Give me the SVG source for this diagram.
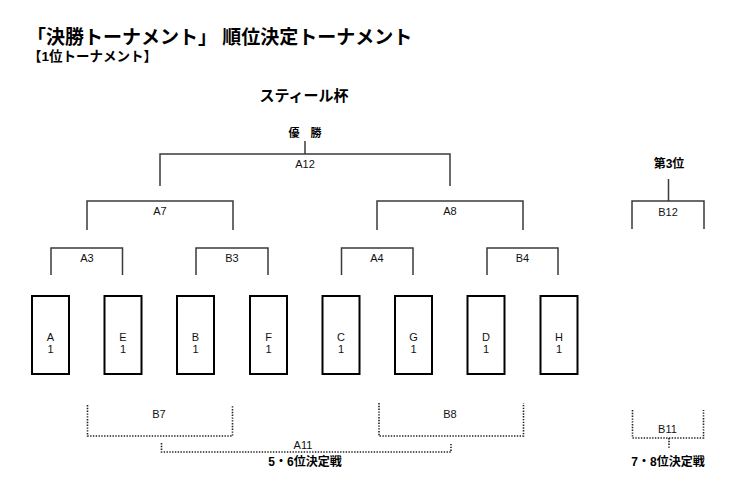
<svg xmlns="http://www.w3.org/2000/svg" width="740" height="496" viewBox="0 0 740 496">
<style>
.bg{fill:#ffffff}
.title{font-family:"Liberation Sans","Noto Sans CJK JP",sans-serif;font-weight:bold;fill:#000}
.lbl{font-family:"Liberation Sans","Noto Sans CJK JP",sans-serif;font-size:11px;fill:#111;text-anchor:middle}
.bl{font-family:"Liberation Sans","Noto Sans CJK JP",sans-serif;font-weight:bold;fill:#000;text-anchor:middle}
.box{fill:#fff;stroke:#000;stroke-width:2}
.br{fill:none;stroke:#3a3a3a;stroke-width:1.5}
.dot{fill:none;stroke:#222;stroke-width:1.6;stroke-dasharray:1.4 1.4}
</style>
<rect class="bg" x="0" y="0" width="740" height="496"/>

<g id="header">
<text class="title" x="27" y="43.5" font-size="19">「決勝トーナメント」 順位決定トーナメント</text>
<text class="title" x="28" y="61" font-size="13.5">【1位トーナメント】</text>
<text class="bl" x="304" y="100.5" font-size="15">スティール杯</text>
</g>

<g id="connectors">
<path class="br" d="M305,141 V154"/>
<path class="br" d="M160,186 V154 H450 V186"/>
<path class="br" d="M87,230 V201 H233 V230"/>
<path class="br" d="M377,230 V201 H523 V230"/>
<path class="br" d="M51,275 V248 H122.5 V275"/>
<path class="br" d="M196,275 V248 H268 V275"/>
<path class="br" d="M341.5,275 V248 H413 V275"/>
<path class="br" d="M487,275 V248 H558 V275"/>
<path class="br" d="M668.5,179 V201"/>
<path class="br" d="M632,229 V201 H704 V229"/>
<path class="dot" d="M87.5,405 V436 H232.5 V405"/>
<path class="dot" d="M379,403 V436 H523.5 V403"/>
<path class="dot" d="M161.5,443 V452 H451 V443"/>
<path class="dot" d="M632.5,410 V438 H703.5 V410"/>
<path class="dot" d="M669,438 V448"/>
</g>

<g id="champion"><text class="bl" x="305" y="137" font-size="11" xml:space="preserve" word-spacing="8">優 勝</text></g>
<g id="third"><text class="bl" x="669" y="167.5" font-size="12">第3位</text></g>
<g id="match-A12"><text class="lbl" x="305" y="168">A12</text></g>
<g id="match-A7"><text class="lbl" x="160" y="214.5">A7</text></g>
<g id="match-A8"><text class="lbl" x="450" y="214.5">A8</text></g>
<g id="match-B12"><text class="lbl" x="668" y="215.5">B12</text></g>
<g id="match-A3"><text class="lbl" x="87" y="261.5">A3</text></g>
<g id="match-B3"><text class="lbl" x="232" y="261.5">B3</text></g>
<g id="match-A4"><text class="lbl" x="377" y="261.5">A4</text></g>
<g id="match-B4"><text class="lbl" x="522.5" y="261.5">B4</text></g>

<g id="team-A"><rect class="box" x="32" y="296" width="37" height="78"/><text class="lbl" x="50.5" y="340.7">A</text><text class="lbl" x="50.5" y="353.3">1</text></g>
<g id="team-E"><rect class="box" x="104.5" y="296" width="37" height="78"/><text class="lbl" x="123" y="340.7">E</text><text class="lbl" x="123" y="353.3">1</text></g>
<g id="team-B"><rect class="box" x="177" y="296" width="37" height="78"/><text class="lbl" x="195.5" y="340.7">B</text><text class="lbl" x="195.5" y="353.3">1</text></g>
<g id="team-F"><rect class="box" x="250" y="296" width="37" height="78"/><text class="lbl" x="268.5" y="340.7">F</text><text class="lbl" x="268.5" y="353.3">1</text></g>
<g id="team-C"><rect class="box" x="322.5" y="296" width="37" height="78"/><text class="lbl" x="341" y="340.7">C</text><text class="lbl" x="341" y="353.3">1</text></g>
<g id="team-G"><rect class="box" x="395" y="296" width="37" height="78"/><text class="lbl" x="413.5" y="340.7">G</text><text class="lbl" x="413.5" y="353.3">1</text></g>
<g id="team-D"><rect class="box" x="467.5" y="296" width="37" height="78"/><text class="lbl" x="486" y="340.7">D</text><text class="lbl" x="486" y="353.3">1</text></g>
<g id="team-H"><rect class="box" x="540.5" y="296" width="37" height="78"/><text class="lbl" x="559" y="340.7">H</text><text class="lbl" x="559" y="353.3">1</text></g>

<g id="match-B7"><text class="lbl" x="159" y="418">B7</text></g>
<g id="match-B8"><text class="lbl" x="450" y="418">B8</text></g>
<g id="match-A11"><text class="lbl" x="303" y="449.3">A11</text></g>
<g id="match-B11"><text class="lbl" x="667.5" y="433">B11</text></g>
<g id="place56"><text class="bl" x="305" y="465.5" font-size="12">5・6位決定戦</text></g>
<g id="place78"><text class="bl" x="668" y="465.5" font-size="12">7・8位決定戦</text></g>
</svg>
